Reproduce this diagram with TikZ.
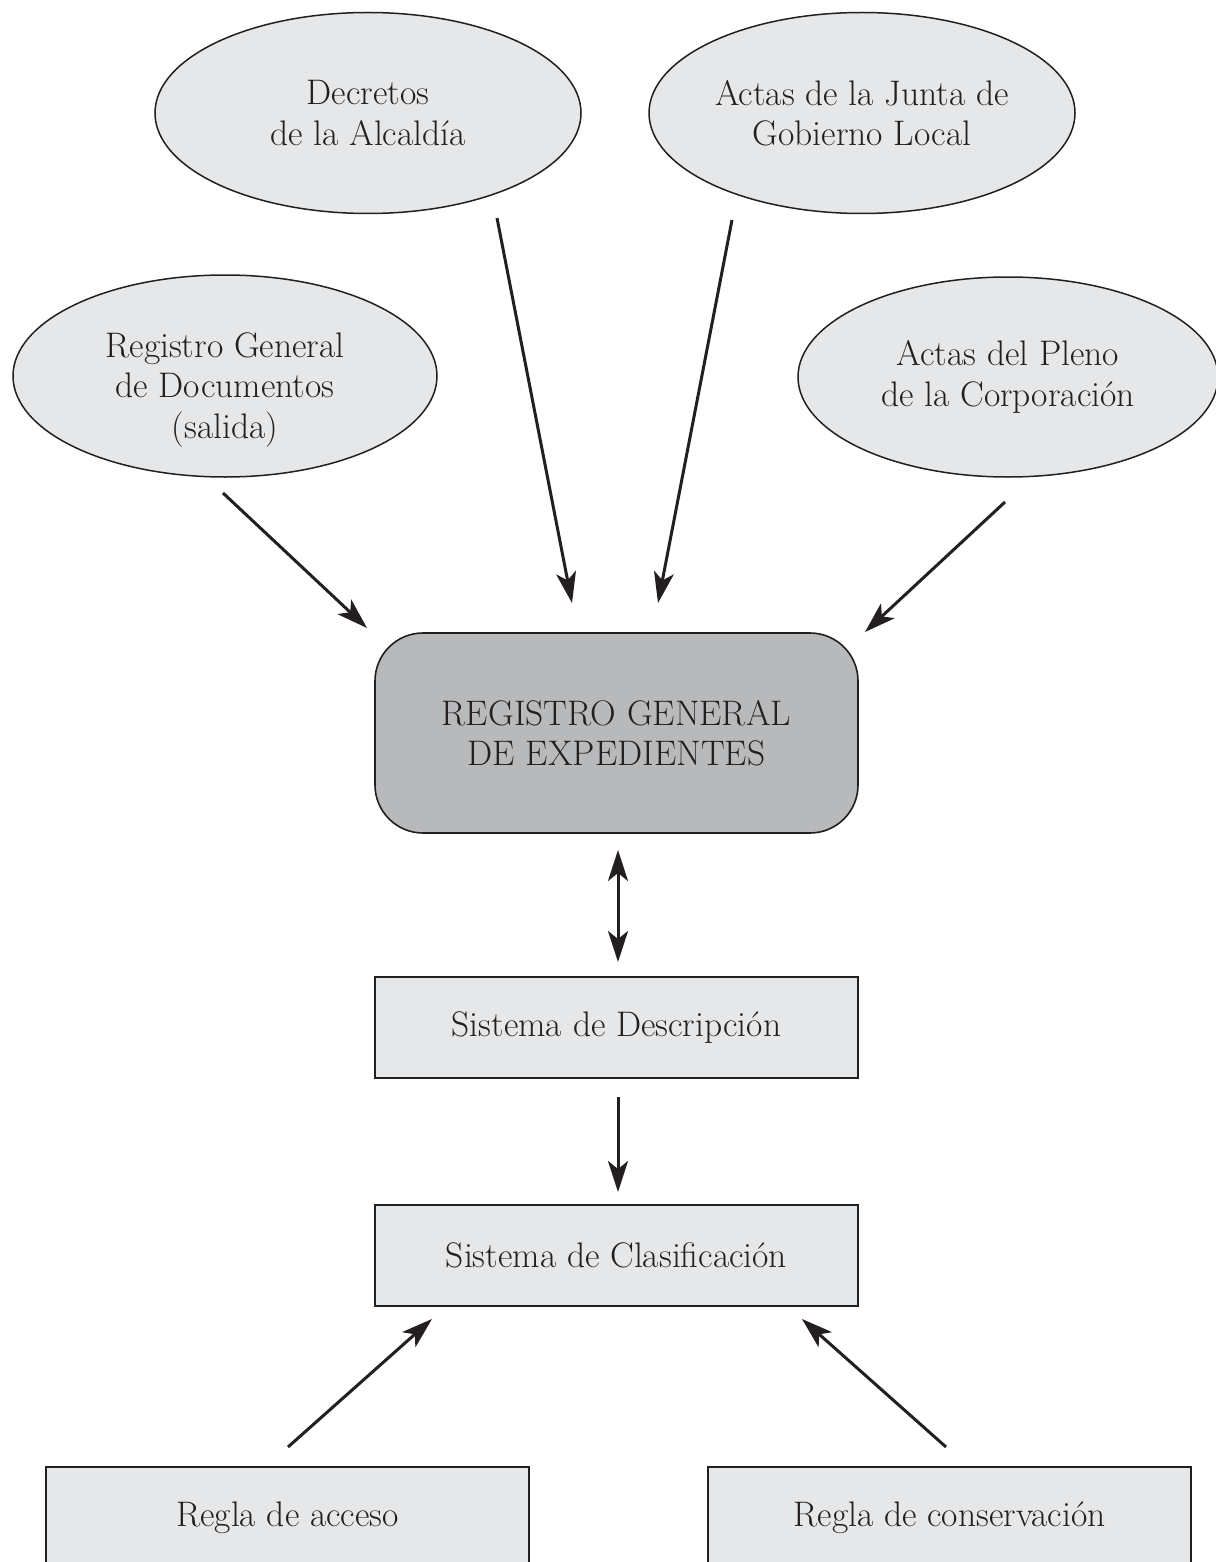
\documentclass[tikz,border=0pt]{standalone}
\usepackage{tikz}
\usetikzlibrary{shapes.geometric, arrows.meta}

\definecolor{linecol}{RGB}{35,31,32}
\definecolor{lightfill}{RGB}{230,231,232}
\definecolor{darkfill}{RGB}{184,185,187}

\newcommand{\bigtext}{\fontsize{35.5}{40.5}\selectfont}

\tikzset{
	source/.style={ellipse, draw=linecol, fill=lightfill, line width=1.5pt,
		minimum width=426pt, minimum height=201pt, inner sep=0pt,
		align=center, font=\bigtext, text=linecol},
	mainbox/.style={rectangle, rounded corners=48pt, draw=linecol, fill=darkfill,
		line width=1.6pt, minimum width=483pt, minimum height=200pt,
		align=center, font=\bigtext, text=linecol},
	sysbox/.style={rectangle, draw=linecol, fill=lightfill, line width=1.6pt,
		minimum width=483pt, minimum height=101pt, font=\bigtext, text=linecol},
	arr/.style={draw=linecol, line width=3pt,
		-{Stealth[length=31pt, width=20pt, inset=8pt]}},
	darr/.style={draw=linecol, line width=3pt,
		{Stealth[length=31pt, width=20pt, inset=8pt]}-{Stealth[length=31pt, width=20pt, inset=8pt]}}
}

\begin{document}
\begin{tikzpicture}[x=1pt, y=-1pt]
	\useasboundingbox (0,0) rectangle (1215,1562);

	% source ellipses
	\node[source] (decretos) at (368,113) {Decretos\\de la Alcaldía};
	\node[source] (junta) at (862,113) {Actas de la Junta de\\Gobierno Local};
	\node[source, minimum width=424pt, minimum height=202pt] (registro) at (225,376) {};
	\node[align=center, font=\bigtext, text=linecol, inner sep=0pt] (registroText)
		at (225,390) {Registro General\\de Documentos\\(salida)};
	\node[source, minimum width=420pt, minimum height=200pt] (pleno) at (1008,377)
		{Actas del Pleno\\de la Corporación};

	% central register
	\node[mainbox] (expedientes) at (616.5,733) {REGISTRO GENERAL\\DE EXPEDIENTES};

	% systems
	\node[sysbox] (descripcion) at (616.5,1027.5) {Sistema de Descripción};
	\node[sysbox] (clasificacion) at (616.5,1255.5) {Sistema de Clasificación};

	% rules (cut at the bottom)
	\node[sysbox] (acceso) at (287.5,1517.5) {Regla de acceso};
	\node[sysbox] (conservacion) at (949.5,1517.5) {Regla de conservación};

	% arrow ends
	\coordinate (registroOut) at (223,493);
	\coordinate (registroIn) at (367,628);
	\coordinate (decretosOut) at (497,218);
	\coordinate (decretosIn) at (572,603);
	\coordinate (juntaOut) at (732,220);
	\coordinate (juntaIn) at (658,603);
	\coordinate (plenoOut) at (1005,502);
	\coordinate (plenoIn) at (865,632);
	\coordinate (expUp) at (618,850);
	\coordinate (expDown) at (618,962);
	\coordinate (descOut) at (618,1097);
	\coordinate (clasIn) at (618,1192);
	\coordinate (accesoOut) at (288,1447);
	\coordinate (accesoIn) at (432,1319);
	\coordinate (conservOut) at (946,1447);
	\coordinate (conservIn) at (802,1319);

	% arrows into the register
	\draw[arr] (registroOut) -- (registroIn);
	\draw[arr] (decretosOut) -- (decretosIn);
	\draw[arr] (juntaOut) -- (juntaIn);
	\draw[arr] (plenoOut) -- (plenoIn);

	% register and systems
	\draw[darr] (expUp) -- (expDown);
	\draw[arr] (descOut) -- (clasIn);

	% rules
	\draw[arr] (accesoOut) -- (accesoIn);
	\draw[arr] (conservOut) -- (conservIn);
\end{tikzpicture}
\end{document}
